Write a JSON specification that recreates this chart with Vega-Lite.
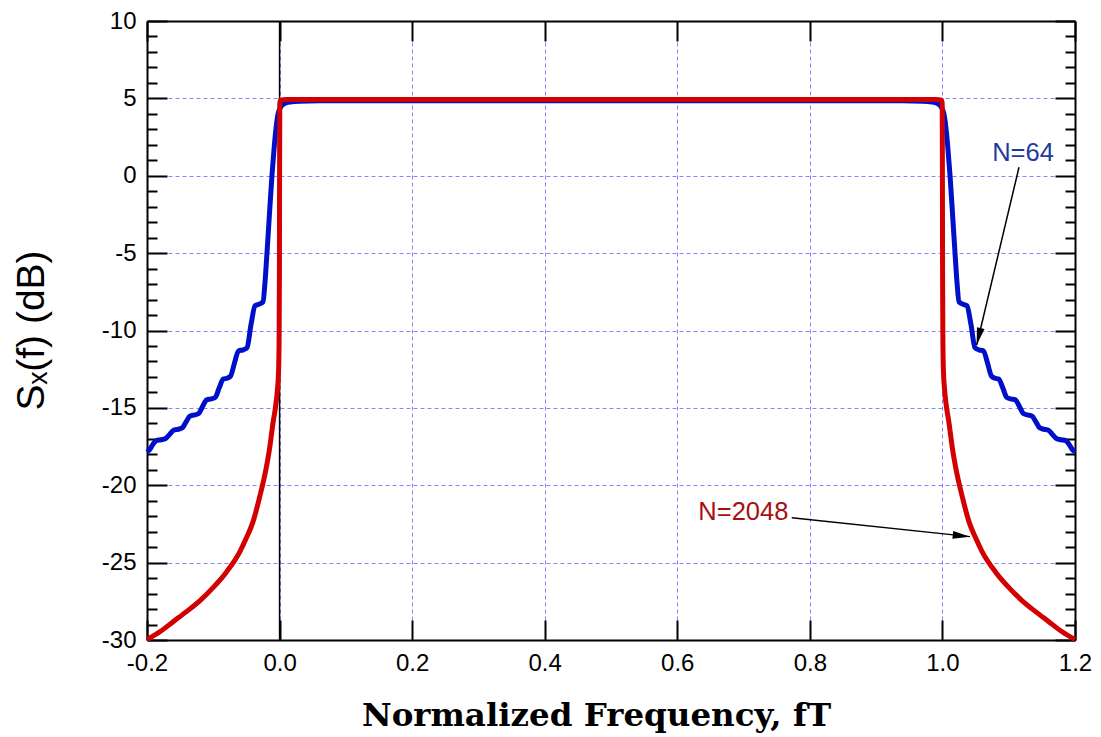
{
  "$schema": "https://vega.github.io/schema/vega-lite/v6.json",
  "width": 928,
  "height": 619,
  "autosize": {"type": "none"},
  "padding": {"left": 147, "top": 21, "right": 26, "bottom": 97},
  "background": "white",
  "view": {"stroke": null},
  "config": {
    "axis": {
      "domainColor": "black", "domainWidth": 2,
      "tickColor": "black", "tickWidth": 2,
      "labelFont": "Liberation Sans", "labelFontSize": 24, "labelColor": "black",
      "labelFlush": false, "labelOverlap": false,
      "grid": false, "gridColor": "#8484ff", "gridDash": [4, 3], "gridWidth": 1
    }
  },
  "datasets": {
    "n64": [
      {"f": -0.2, "db": -17.85}, {"f": -0.196, "db": -17.7}, {"f": -0.191, "db": -17.35}, {"f": -0.186, "db": -17.12},
      {"f": -0.179, "db": -17.06}, {"f": -0.172, "db": -16.98}, {"f": -0.166, "db": -16.72}, {"f": -0.16, "db": -16.45},
      {"f": -0.153, "db": -16.38}, {"f": -0.147, "db": -16.3}, {"f": -0.141, "db": -15.9}, {"f": -0.135, "db": -15.52},
      {"f": -0.128, "db": -15.45}, {"f": -0.122, "db": -15.36}, {"f": -0.116, "db": -14.9}, {"f": -0.11, "db": -14.48},
      {"f": -0.103, "db": -14.42}, {"f": -0.097, "db": -14.32}, {"f": -0.091, "db": -13.7}, {"f": -0.085, "db": -13.14},
      {"f": -0.079, "db": -13.08}, {"f": -0.074, "db": -12.95}, {"f": -0.068, "db": -12.1}, {"f": -0.062, "db": -11.32},
      {"f": -0.055, "db": -11.25}, {"f": -0.049, "db": -11.1}, {"f": -0.043, "db": -9.6}, {"f": -0.037, "db": -8.4},
      {"f": -0.031, "db": -8.3}, {"f": -0.025, "db": -8.15}, {"f": -0.022, "db": -6.9}, {"f": -0.019, "db": -5.0},
      {"f": -0.015, "db": -2.3}, {"f": -0.0115, "db": 0.0}, {"f": -0.008, "db": 1.9}, {"f": -0.005, "db": 3.2},
      {"f": -0.002, "db": 4.05}, {"f": 0.002, "db": 4.45}, {"f": 0.008, "db": 4.68}, {"f": 0.016, "db": 4.77},
      {"f": 0.03, "db": 4.82}, {"f": 0.06, "db": 4.84}, {"f": 0.5, "db": 4.85},
      {"f": 0.94, "db": 4.84}, {"f": 0.97, "db": 4.82}, {"f": 0.984, "db": 4.77}, {"f": 0.992, "db": 4.68},
      {"f": 0.998, "db": 4.45}, {"f": 1.002, "db": 4.05}, {"f": 1.005, "db": 3.2}, {"f": 1.008, "db": 1.9},
      {"f": 1.0115, "db": 0.0}, {"f": 1.015, "db": -2.3}, {"f": 1.019, "db": -5.0}, {"f": 1.022, "db": -6.9},
      {"f": 1.025, "db": -8.15}, {"f": 1.031, "db": -8.3}, {"f": 1.037, "db": -8.4}, {"f": 1.043, "db": -9.6},
      {"f": 1.049, "db": -11.1}, {"f": 1.055, "db": -11.25}, {"f": 1.062, "db": -11.32}, {"f": 1.068, "db": -12.1},
      {"f": 1.074, "db": -12.95}, {"f": 1.079, "db": -13.08}, {"f": 1.085, "db": -13.14}, {"f": 1.091, "db": -13.7},
      {"f": 1.097, "db": -14.32}, {"f": 1.103, "db": -14.42}, {"f": 1.11, "db": -14.48}, {"f": 1.116, "db": -14.9},
      {"f": 1.122, "db": -15.36}, {"f": 1.128, "db": -15.45}, {"f": 1.135, "db": -15.52}, {"f": 1.141, "db": -15.9},
      {"f": 1.147, "db": -16.3}, {"f": 1.153, "db": -16.38}, {"f": 1.16, "db": -16.45}, {"f": 1.166, "db": -16.72},
      {"f": 1.172, "db": -16.98}, {"f": 1.179, "db": -17.06}, {"f": 1.186, "db": -17.12}, {"f": 1.191, "db": -17.35},
      {"f": 1.196, "db": -17.7}, {"f": 1.2, "db": -17.85}
    ],
    "n2048": [
      {"f": -0.2, "db": -29.97}, {"f": -0.18, "db": -29.45}, {"f": -0.16, "db": -28.8}, {"f": -0.14, "db": -28.15},
      {"f": -0.12, "db": -27.45}, {"f": -0.1, "db": -26.6}, {"f": -0.08, "db": -25.6}, {"f": -0.06, "db": -24.3},
      {"f": -0.05, "db": -23.4}, {"f": -0.04, "db": -22.35}, {"f": -0.03, "db": -20.75}, {"f": -0.02, "db": -18.85},
      {"f": -0.015, "db": -17.6}, {"f": -0.01, "db": -16.0}, {"f": -0.006, "db": -14.9}, {"f": -0.003, "db": -13.7},
      {"f": -0.0015, "db": -12.6}, {"f": -0.0007, "db": -10.5}, {"f": -0.0002, "db": -6.0}, {"f": 0.0, "db": 0.0},
      {"f": 0.0003, "db": 4.6}, {"f": 0.001, "db": 4.88}, {"f": 0.01, "db": 4.93}, {"f": 0.5, "db": 4.93},
      {"f": 0.99, "db": 4.93}, {"f": 0.999, "db": 4.88}, {"f": 0.9997, "db": 4.6}, {"f": 1.0, "db": 0.0},
      {"f": 1.0002, "db": -6.0}, {"f": 1.0007, "db": -10.5}, {"f": 1.0015, "db": -12.6}, {"f": 1.003, "db": -13.7},
      {"f": 1.006, "db": -14.9}, {"f": 1.01, "db": -16.0}, {"f": 1.015, "db": -17.6}, {"f": 1.02, "db": -18.85},
      {"f": 1.03, "db": -20.75}, {"f": 1.04, "db": -22.35}, {"f": 1.05, "db": -23.4}, {"f": 1.06, "db": -24.3},
      {"f": 1.08, "db": -25.6}, {"f": 1.1, "db": -26.6}, {"f": 1.12, "db": -27.45}, {"f": 1.14, "db": -28.15},
      {"f": 1.16, "db": -28.8}, {"f": 1.18, "db": -29.45}, {"f": 1.2, "db": -29.97}
    ],
    "zero": [{"f": 0}],
    "arrows": [
      {"label": "N=64", "f1": 1.1155, "d1": 0.55, "f2": 1.0517, "d2": -10.94},
      {"label": "N=2048", "f1": 0.7727, "d1": -22.1, "f2": 1.0416, "d2": -23.32}
    ],
    "labels": [
      {"label": "N=64", "f": 1.1215, "db": 1.5},
      {"label": "N=2048", "f": 0.6997, "db": -21.76}
    ]
  },
  "layer": [
    {
      "data": {"name": "zero"},
      "mark": {"type": "rule", "color": "black", "strokeWidth": 1.5},
      "encoding": {
        "x": {"field": "f", "type": "quantitative", "scale": {"domain": [-0.2, 1.2], "nice": false, "zero": false}, "axis": null}
      }
    },
    {
      "data": {"name": "n64"},
      "mark": {"type": "line", "color": "#0010c8", "strokeWidth": 5, "interpolate": "monotone"},
      "encoding": {
        "x": {
          "field": "f", "type": "quantitative",
          "scale": {"domain": [-0.2, 1.2], "nice": false, "zero": false},
          "axis": {
            "orient": "bottom", "values": [-0.2, 0, 0.2, 0.4, 0.6, 0.8, 1, 1.2], "format": ".1f",
            "labelExpr": "replace(datum.label, '−', '-')",
            "tickSize": -20, "labelPadding": 31,
            "grid": true,
            "gridOpacity": {"condition": {"test": "datum.value > -0.1 && datum.value < 1.1", "value": 1}, "value": 0},
            "title": "Normalized Frequency, fT", "titleFont": "DejaVu Serif", "titleFontWeight": "bold",
            "titleFontSize": 32.5, "titleColor": "black", "titleY": 85, "titleX": 449,
            "titleBaseline": "alphabetic", "titleAlign": "center"
          }
        },
        "y": {
          "field": "db", "type": "quantitative",
          "scale": {"domain": [-30, 10], "nice": false, "zero": false},
          "axis": {
            "orient": "left",
            "values": [-30, -29, -28, -27, -26, -25, -24, -23, -22, -21, -20, -19, -18, -17, -16, -15, -14, -13, -12, -11, -10, -9, -8, -7, -6, -5, -4, -3, -2, -1, 0, 1, 2, 3, 4, 5, 6, 7, 8, 9, 10],
            "tickSize": {"condition": {"test": "datum.value % 5 === 0", "value": -20}, "value": -10},
            "labelExpr": "datum.value % 5 === 0 ? replace(datum.label, '−', '-') : ''",
            "labelPadding": 31, "labelBaseline": "middle",
            "grid": true,
            "gridOpacity": {"condition": {"test": "datum.value % 5 === 0 && datum.value > -30 && datum.value < 10", "value": 1}, "value": 0},
            "title": "Sₓ(f) (dB)", "titleFont": "Liberation Sans, DejaVu Sans", "titleFontSize": 39,
            "titleFontWeight": "normal", "titleColor": "black", "titleX": -104, "titleY": 309,
            "titleAngle": -90, "titleBaseline": "alphabetic", "titleAlign": "center"
          }
        }
      }
    },
    {
      "data": {"name": "n2048"},
      "mark": {"type": "line", "color": "#d20000", "strokeWidth": 5, "interpolate": "monotone"},
      "encoding": {
        "x": {
          "field": "f", "type": "quantitative",
          "scale": {"domain": [-0.2, 1.2], "nice": false, "zero": false},
          "axis": {"orient": "top", "values": [-0.2, 0, 0.2, 0.4, 0.6, 0.8, 1, 1.2], "tickSize": -20, "labels": false, "title": null, "grid": false}
        },
        "y": {
          "field": "db", "type": "quantitative",
          "scale": {"domain": [-30, 10], "nice": false, "zero": false},
          "axis": {
            "orient": "right",
            "values": [-30, -29, -28, -27, -26, -25, -24, -23, -22, -21, -20, -19, -18, -17, -16, -15, -14, -13, -12, -11, -10, -9, -8, -7, -6, -5, -4, -3, -2, -1, 0, 1, 2, 3, 4, 5, 6, 7, 8, 9, 10],
            "tickSize": {"condition": {"test": "datum.value % 5 === 0", "value": -20}, "value": -10},
            "labels": false, "title": null, "grid": false
          }
        }
      }
    },
    {
      "data": {"name": "arrows"},
      "mark": {"type": "rule", "color": "black", "strokeWidth": 1.5},
      "encoding": {
        "x": {"field": "f1", "type": "quantitative", "scale": {"domain": [-0.2, 1.2], "nice": false, "zero": false}, "axis": null},
        "y": {"field": "d1", "type": "quantitative", "scale": {"domain": [-30, 10], "nice": false, "zero": false}, "axis": null},
        "x2": {"field": "f2"},
        "y2": {"field": "d2"}
      }
    },
    {
      "data": {"name": "arrows"},
      "transform": [{"filter": "datum.label === 'N=64'"}],
      "mark": {"type": "point", "shape": "M0,0L0.45,2L-0.45,2Z", "filled": true, "color": "black", "opacity": 1, "size": 300, "angle": 193.4},
      "encoding": {
        "x": {"field": "f2", "type": "quantitative", "scale": {"domain": [-0.2, 1.2], "nice": false, "zero": false}, "axis": null},
        "y": {"field": "d2", "type": "quantitative", "scale": {"domain": [-30, 10], "nice": false, "zero": false}, "axis": null}
      }
    },
    {
      "data": {"name": "arrows"},
      "transform": [{"filter": "datum.label === 'N=2048'"}],
      "mark": {"type": "point", "shape": "M0,0L0.45,2L-0.45,2Z", "filled": true, "color": "black", "opacity": 1, "size": 300, "angle": 96.1},
      "encoding": {
        "x": {"field": "f2", "type": "quantitative", "scale": {"domain": [-0.2, 1.2], "nice": false, "zero": false}, "axis": null},
        "y": {"field": "d2", "type": "quantitative", "scale": {"domain": [-30, 10], "nice": false, "zero": false}, "axis": null}
      }
    },
    {
      "data": {"name": "labels"},
      "mark": {"type": "text", "font": "Liberation Sans", "fontSize": 25.5, "align": "center", "baseline": "middle"},
      "encoding": {
        "x": {"field": "f", "type": "quantitative", "scale": {"domain": [-0.2, 1.2], "nice": false, "zero": false}, "axis": null},
        "y": {"field": "db", "type": "quantitative", "scale": {"domain": [-30, 10], "nice": false, "zero": false}, "axis": null},
        "text": {"field": "label"},
        "color": {"field": "label", "type": "nominal", "scale": {"domain": ["N=64", "N=2048"], "range": ["#1f3a9e", "#a80f0f"]}, "legend": null}
      }
    }
  ],
  "resolve": {"axis": {"x": "independent", "y": "independent"}}
}
